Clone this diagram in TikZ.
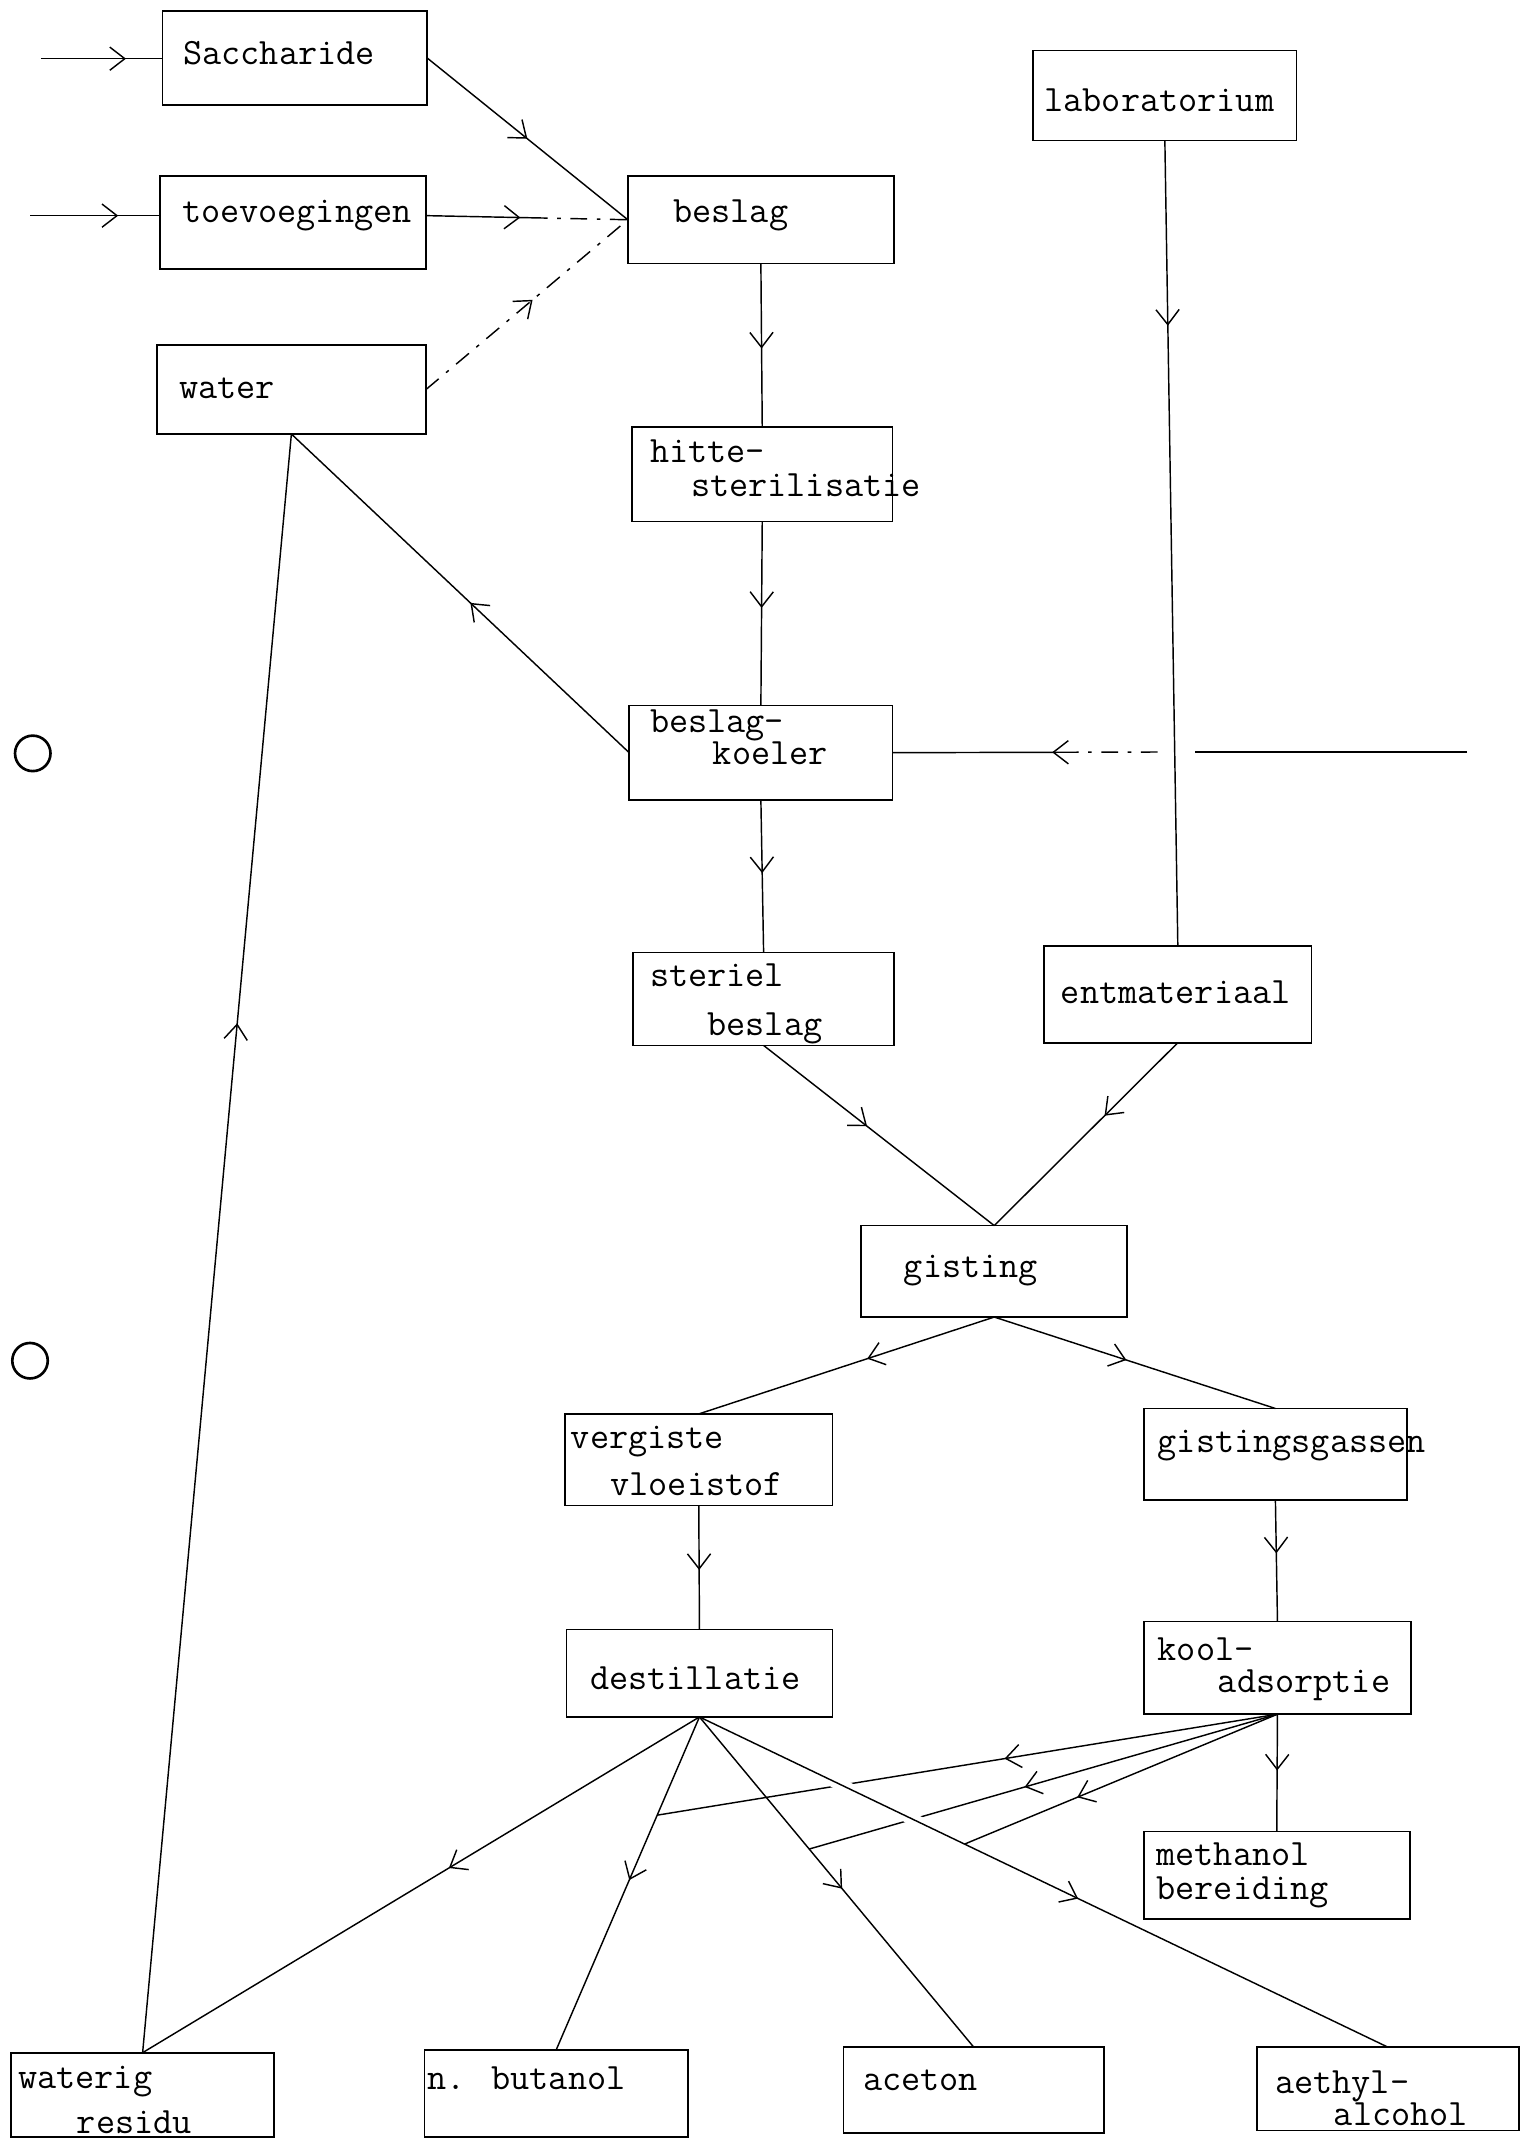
\documentclass[tikz,border=0pt]{standalone}
\usepackage{fontspec}
\usetikzlibrary{arrows.meta,decorations.markings,fit,calc}
\begin{document}
\begin{tikzpicture}[x=0.02cm,y=-0.02cm,
  box/.style={draw, line width=0.7pt, inner sep=0pt, outer sep=0pt},
  txt/.style={font=\fontsize{15.5}{18}\selectfont\ttfamily, inner sep=0pt, anchor=base west},
  ln/.style={line width=0.6pt},
  mid/.style={decoration={markings, mark=at position #1 with {\arrow{Straight Barb[length=2.2mm,width=3.4mm,line width=0.6pt]}}}, postaction={decorate}},
  dd/.style={dash pattern=on 7pt off 4pt on 1.5pt off 4pt}
]
\useasboundingbox (0,0) rectangle (1114,1568);
\fill[white] (0,0) rectangle (1114,1568);

% punch holes
\draw[line width=1.1pt] (24,552) circle (13);
\draw[line width=1.1pt] (22,997) circle (13);

% boxes
\node[box, fit={(119,8) (313,77)}] (sac) {};
\node[box, fit={(117,129) (312,197)}] (toe) {};
\node[box, fit={(115,253) (312,318)}] (wat) {};
\node[box, fit={(460,129) (655,193)}] (bes) {};
\node[box, fit={(757,37) (950,103)}] (lab) {};
\node[box, fit={(463,313) (654,382)}] (hit) {};
\node[box, fit={(461,517) (654,586)}] (koe) {};
\node[box, fit={(464,698) (655,766)}] (ste) {};
\node[box, fit={(765,693) (961,764)}] (ent) {};
\node[box, fit={(631,898) (826,965)}] (gis) {};
\node[box, fit={(414,1036) (610,1103)}] (ver) {};
\node[box, fit={(838,1032) (1031,1099)}] (gas) {};
\node[box, fit={(415,1194) (610,1258)}] (des) {};
\node[box, fit={(838,1188) (1034,1256)}] (kool) {};
\node[box, fit={(838,1342) (1033,1406)}] (met) {};
\node[box, fit={(8,1504) (201,1566)}] (res) {};
\node[box, fit={(311,1502) (504,1566)}] (but) {};
\node[box, fit={(618,1500) (809,1563)}] (ace) {};
\node[box, fit={(921,1500) (1113,1561)}] (aet) {};

% texts
\node[txt] (sacT) at (134,47) {Saccharide};
\node[txt] (toeT) at (133,163) {toevoegingen};
\node[txt] (watT) at (131,292) {water};
\node[txt] (besT) at (493,163) {beslag};
\node[txt] (labT) at (765,82) {laboratorium};
\node[txt] (hitT1) at (476,339) {hitte-};
\node[txt] (hitT2) at (506,364) {sterilisatie};
\node[txt] (koeT1) at (476,537) {beslag-};
\node[txt] (koeT2) at (522,560) {koeler};
\node[txt] (steT1) at (476,723) {steriel};
\node[txt] (steT2) at (518,759) {beslag};
\node[txt] (entT) at (777,735) {entmateriaal};
\node[txt] (gisT) at (662,936) {gisting};
\node[txt] (verT1) at (418,1061) {vergiste};
\node[txt] (verT2) at (447,1096) {vloeistof};
\node[txt] (gasT) at (848,1064) {gistingsgassen};
\node[txt] (desT) at (432,1238) {destillatie};
\node[txt] (koolT1) at (848,1217) {kool-};
\node[txt] (koolT2) at (892,1240) {adsorptie};
\node[txt] (metT1) at (847,1367) {methanol};
\node[txt] (metT2) at (847,1392) {bereiding};
\node[txt] (resT1) at (13,1530) {waterig};
\node[txt] (resT2) at (56,1563) {residu};
\node[txt] (butT) at (313,1531) {n. butanol};
\node[txt] (aceT) at (632,1532) {aceton};
\node[txt] (aetT1) at (934,1534) {aethyl-};
\node[txt] (aetT2) at (977,1557) {alcohol};

% inputs
\coordinate (in1) at (30,43);
\coordinate (in2) at (22,158);
\draw[ln, mid=0.7] (in1) -- (sac.west |- in1);
\draw[ln, mid=0.68] (in2) -- (toe.west |- in2);

% to beslag
\draw[ln, mid=0.5] (sac.east) -- (bes.west);
\path (toe.east |- in2) -- (bes.west) coordinate[pos=0.52] (tb);
\draw[ln, mid=0.9] (toe.east |- in2) -- (tb);
\draw[ln, dd] (tb) -- (bes.west);
\draw[ln, dd, mid=0.53] (wat.east) -- (bes.west);

% main chain
\draw[ln, mid=0.52] (bes.south) -- (hit.north);
\draw[ln, mid=0.47] (hit.south) -- (koe.north);
\draw[ln, mid=0.48] (koe.south) -- (ste.north);
\draw[ln, mid=0.23] (lab.south) -- (ent.north);

% horizontal feed into koeler
\coordinate (hR) at (1075,551);
\coordinate (labmid) at ($(lab.south)!0.76!(ent.north)$);
\coordinate (hX) at (labmid |- hR);
\coordinate (hXr) at ([xshift=0.3cm]hX);
\coordinate (hXl) at ([xshift=-0.25cm]hX);
\coordinate (hD) at ($(hXl)!0.3!(koe.east)$);
\draw[ln] (hR) -- (hXr);
\draw[ln, dd] (hXl) -- (hD);
\draw[ln, mid=0.14] (hD) -- (koe.east);

% water recycle
\draw[ln, mid=0.47] (koe.west) -- (wat.south);
\draw[ln, mid=0.636] (res.north) -- (wat.south);

% to gisting
\draw[ln, mid=0.45] (ste.south) -- (gis.north);
\draw[ln, mid=0.4] (ent.south) -- (gis.north);
\draw[ln, mid=0.43] (gis.south) -- (ver.north);
\draw[ln, mid=0.47] (gis.south) -- (gas.north);
\draw[ln, mid=0.52] (ver.south) -- (des.north);
\draw[ln, mid=0.44] (gas.south) -- (kool.north);
\draw[ln, mid=0.48] (kool.south) -- (met.north);

% destillatie products
\path (des.south) -- (but.north) coordinate[pos=0.295] (ba);
\path (des.south) -- (ace.north) coordinate[pos=0.40] (ac);
\path (des.south) -- (aet.north) coordinate[pos=0.385] (ae);

\draw[ln, mid=0.44] (kool.south) -- (ba);
\draw[ln, mid=0.54] (kool.south) -- (ac);
\draw[ln, mid=0.64] (kool.south) -- (ae);

\draw[white, line width=5pt] ($(des.south)!0.15!(aet.north)$) -- ($(des.south)!0.36!(aet.north)$);

\draw[ln, mid=0.45] (des.south) -- (res.north);
\draw[ln, mid=0.49] (des.south) -- (but.north);
\draw[ln, mid=0.52] (des.south) -- (ace.north);
\draw[ln, mid=0.55] (des.south) -- (aet.north);
\end{tikzpicture}
\end{document}
